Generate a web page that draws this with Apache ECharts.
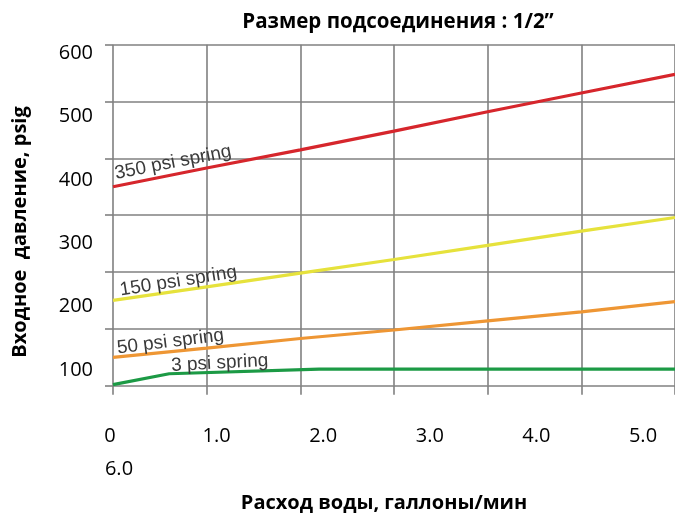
<!DOCTYPE html>
<html>
<head>
<meta charset="utf-8">
<script src="https://cdn.jsdelivr.net/npm/echarts@6/dist/echarts.min.js"></script>
<style>
html,body{margin:0;padding:0;background:#fff;overflow:hidden;}
#chart{width:675px;height:515px;}
</style>
</head>
<body>
<div id="chart"></div>
<script>
// ---- data ----
const titleText = 'Размер подсоединения : 1/2”';
const xAxisName = 'Расход воды, галлоны/мин';
const yAxisName = 'Входное  давление, psig';
const xTickLabels = ['0', '1.0', '2.0', '3.0', '4.0', '5.0', '6.0'];
const yTickLabels = ['100', '200', '300', '400', '500', '600'];
const seriesNames = ['350 psi spring', '150 psi spring', '50 psi spring', '3 psi spring'];
const flowX = [0, 1, 2, 3, 4, 5, 6];
const spring350 = [350, 383, 415, 448, 482, 515, 548];
const spring150 = [150, 174, 198, 222, 247, 272, 296];
const spring50 = [50, 66, 83, 98, 114, 130, 148];
const spring3X = [0, 0.6, 2.2, 6];
const spring3 = [2, 21, 29, 29];

// ---- styles ----
const colors = ['#d6262c', '#e6e23c', '#ee9634', '#1c9a45'];
const labelCfg = [
  {idx: 0, pos: [2, -13], rot: 11},
  {idx: 0, pos: [7, -10], rot: 9},
  {idx: 0, pos: [4, -9], rot: 7},
  {idx: 1, pos: [2, -8], rot: 3}
];
const gridColor = '#808080';
const sansFont = '"Open Sans", "Noto Sans", sans-serif';

function buildData(xs, ys, k) {
  return xs.map((x, i) => {
    const item = {value: [x, ys[i]]};
    if (i === labelCfg[k].idx) {
      item.label = {
        show: true,
        formatter: seriesNames[k],
        position: labelCfg[k].pos,
        align: 'left',
        verticalAlign: 'middle',
        rotate: labelCfg[k].rot,
        fontFamily: '"Liberation Sans", Arial, sans-serif',
        fontSize: 19,
        color: '#3a3a3a'
      };
    }
    return item;
  });
}

const seriesXs = [flowX, flowX, flowX, spring3X];
const seriesYs = [spring350, spring150, spring50, spring3];

const chart = echarts.init(document.getElementById('chart'), null, {renderer: 'canvas'});
chart.setOption({
  animation: false,
  backgroundColor: '#fff',
  grid: [
    {left: 113, right: -12, top: 44.7, bottom: 129.3},
    {left: 113, right: -12, top: 53.2, bottom: 144.9},
    {left: 110, right: 32, top: 44.7, bottom: 129.3}
  ],
  xAxis: [
    {gridIndex: 0, type: 'value', min: 0, max: 6, interval: 1,
     axisLine: {show: false},
     axisTick: {show: true, length: 9, lineStyle: {color: gridColor, width: 1.6}},
     axisLabel: {show: false},
     splitLine: {show: true, lineStyle: {color: gridColor, width: 1.6}}},
    {gridIndex: 1, type: 'value', min: 0, max: 1, show: false},
    {gridIndex: 2, type: 'value', min: 0, max: 5, interval: 1,
     axisLine: {show: false}, axisTick: {show: false}, splitLine: {show: false},
     axisLabel: {
       show: true, margin: 34, fontFamily: sansFont, fontSize: 20, color: '#000', lineHeight: 33,
       formatter: function (v) {
         const i = Math.round(v);
         if (i === 0) return '{a|' + xTickLabels[0] + '}\n{b|' + xTickLabels[6] + '}';
         return xTickLabels[i];
       },
       rich: {
         a: {fontFamily: sansFont, fontSize: 20, color: '#000', lineHeight: 33},
         b: {fontFamily: sansFont, fontSize: 20, color: '#000', lineHeight: 34, padding: [0, 0, 0, 18]}
       }
     }}
  ],
  yAxis: [
    {gridIndex: 0, type: 'value', min: 0, max: 600, interval: 100,
     axisLine: {show: false},
     axisTick: {show: true, length: 8, lineStyle: {color: gridColor, width: 1.6}},
     axisLabel: {show: false},
     splitLine: {show: true, lineStyle: {color: gridColor, width: 1.6}}},
    {gridIndex: 1, type: 'value', min: 100, max: 600, interval: 100,
     axisLine: {show: false}, axisTick: {show: false}, splitLine: {show: false},
     axisLabel: {
       show: true, margin: 20, fontFamily: sansFont, fontSize: 20, color: '#000',
       formatter: function (v) { return yTickLabels[Math.round(v / 100) - 1]; }
     }},
    {gridIndex: 2, type: 'value', min: 0, max: 1, show: false}
  ],
  graphic: [
    {type: 'text', x: 398, y: 22, style: {text: titleText, font: 'bold 20.5px ' + sansFont, fill: '#000', textAlign: 'center', textVerticalAlign: 'middle'}},
    {type: 'text', x: 384, y: 503, style: {text: xAxisName, font: 'bold 20px ' + sansFont, fill: '#000', textAlign: 'center', textVerticalAlign: 'middle'}},
    {type: 'text', x: 20, y: 232, rotation: Math.PI / 2, style: {text: yAxisName, font: 'bold 20px ' + sansFont, fill: '#000', textAlign: 'center', textVerticalAlign: 'middle'}}
  ],
  series: seriesNames.map((name, k) => ({
    name: name,
    type: 'line',
    xAxisIndex: 0,
    yAxisIndex: 0,
    showSymbol: true,
    symbol: 'circle',
    symbolSize: 0,
    silent: true,
    lineStyle: {color: colors[k], width: 3.2},
    itemStyle: {color: colors[k]},
    label: {show: false},
    data: buildData(seriesXs[k], seriesYs[k], k)
  }))
});
</script>
</body>
</html>
